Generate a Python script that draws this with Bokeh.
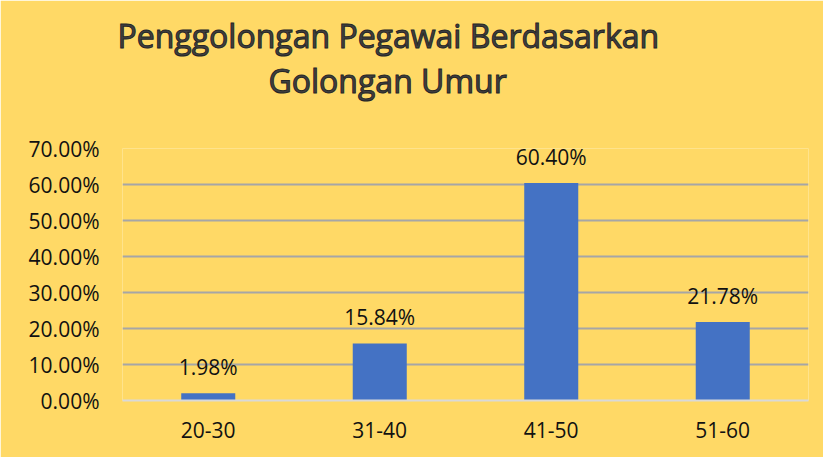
from bokeh.plotting import figure
from bokeh.models import (ColumnDataSource, FactorRange, Range1d, FixedTicker,
                          PrintfTickFormatter, LabelSet, Title)
from bokeh.core.properties import value
from bokeh.embed import file_html
from bokeh.resources import INLINE

# ---- data ----
categories = ["20-30", "31-40", "41-50", "51-60"]
percentages = [1.98, 15.84, 60.40, 21.78]
y_ticks = [0, 10, 20, 30, 40, 50, 60, 70]
title_line1 = "Penggolongan Pegawai Berdasarkan"
title_line2 = "Golongan Umur"

BG = "#FFD966"
FONT = "Open Sans"

source = ColumnDataSource(dict(
    cat=categories,
    val=percentages,
    lbl=[f"{v:.2f}%" for v in percentages],
))

p = figure(
    width=823, height=457,
    x_range=FactorRange(*categories, range_padding=0),
    y_range=Range1d(0, 70),
    output_backend="svg", toolbar_location=None, title=None,
    min_border_left=122, min_border_right=15,
    min_border_top=148, min_border_bottom=57,
)
p.background_fill_color = BG
p.border_fill_color = BG
p.outline_line_color = None

p.vbar(x="cat", top="val", width=0.315, source=source,
       fill_color="#4472C4", line_color=None)

labels = LabelSet(x="cat", y="val", text="lbl", source=source,
                  text_align="center", text_baseline="alphabetic",
                  y_offset=18, text_font=value(FONT), text_font_size=value("21px"),
                  text_color="#111111")
p.add_layout(labels)

# y axis
p.yaxis.ticker = FixedTicker(ticks=y_ticks)
p.yaxis.formatter = PrintfTickFormatter(format="%.2f%%")
p.yaxis.axis_line_color = None
p.yaxis.major_tick_line_color = None
p.yaxis.minor_tick_line_color = None
p.yaxis.major_tick_out = 0
p.yaxis.major_label_standoff = 23
p.yaxis.major_label_text_font = FONT
p.yaxis.major_label_text_font_size = "21px"
p.yaxis.major_label_text_color = "#111111"

# x axis
p.xaxis.axis_line_color = "#D9D9D9"
p.xaxis.axis_line_width = 2
p.xaxis.major_tick_line_color = None
p.xaxis.minor_tick_line_color = None
p.xaxis.major_tick_out = 0
p.xaxis.major_label_standoff = 21
p.xaxis.major_label_text_font = FONT
p.xaxis.major_label_text_font_size = "21px"
p.xaxis.major_label_text_color = "#111111"

# grid
p.xgrid.grid_line_color = None
p.ygrid.ticker = FixedTicker(ticks=[t for t in y_ticks if t > 0])
p.ygrid.grid_line_color = "#A6A6A6"
p.ygrid.grid_line_width = 2

# titles: a thin spacer next to the plot, then line 2, then line 1
spacer = Title(text=" ", text_font_size="2px", standoff=43,
               text_color=BG)
t2 = Title(text=title_line2, align="left", offset=146,
           text_font=FONT, text_font_size="32px", text_font_style="normal",
           text_color="#404040", standoff=0)
t1 = Title(text=title_line1, align="left", offset=-5,
           text_font=FONT, text_font_size="32px", text_font_style="normal",
           text_color="#404040", standoff=0)
try:
    t1.text_outline_color = "#262626"
    t2.text_outline_color = "#262626"
except Exception:
    pass
p.add_layout(spacer, "above")
p.add_layout(t2, "above")
p.add_layout(t1, "above")

open("out.html", "w").write(file_html(p, INLINE))
